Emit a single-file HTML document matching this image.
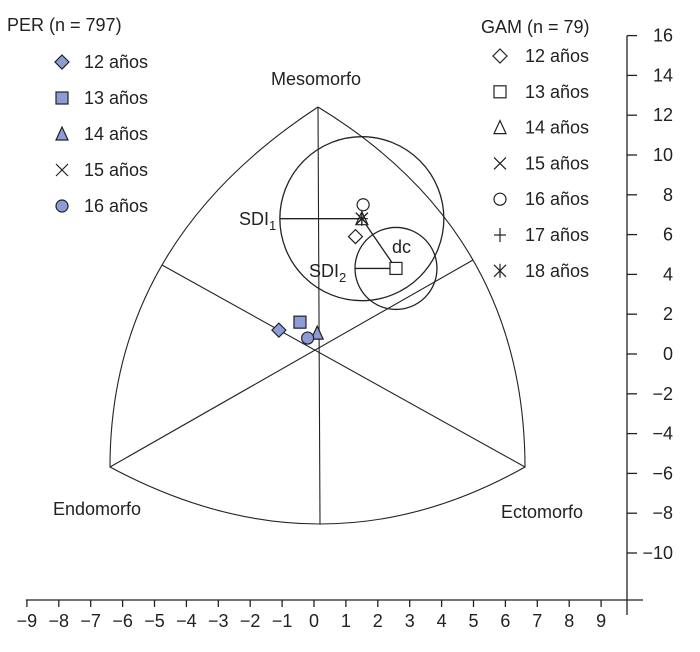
<!DOCTYPE html>
<html><head><meta charset="utf-8"><style>
body{margin:0;background:#fff;width:700px;height:652px;overflow:hidden}
svg{display:block;font-family:"Liberation Sans","DejaVu Sans",sans-serif}
</style></head><body>
<svg id="c" width="700" height="652" viewBox="0 0 700 652" xmlns="http://www.w3.org/2000/svg"></svg>
<script>
const xTicks=[-9,-8,-7,-6,-5,-4,-3,-2,-1,0,1,2,3,4,5,6,7,8,9];
const yTicks=[16,14,12,10,8,6,4,2,0,-2,-4,-6,-8,-10];
const perAges=["12 años","13 años","14 años","15 años","16 años"];
const perShapes=["diamond","square","triangle","cross","circle"];
const perX=[-1.1,-0.44,0.1,null,-0.2];
const perY=[1.2,1.6,1.05,null,0.8];
const gamAges=["12 años","13 años","14 años","15 años","16 años","17 años","18 años"];
const gamShapes=["diamond","square","triangle","cross","circle","plus","asterisk"];
const gamX=[1.3,2.57,1.5,1.5,1.54,1.5,1.5];
const gamY=[5.9,4.3,6.8,6.8,7.5,6.8,6.8];
const sdi1Center=[1.5,6.8];
const sdi2Center=[2.57,4.3];

const NS="http://www.w3.org/2000/svg";
const svg=document.getElementById('c');
const X=v=>314+v*31.9, Y=v=>354-v*19.9;
function el(t,a,p){const e=document.createElementNS(NS,t);for(const k in a)e.setAttribute(k,a[k]);(p||svg).appendChild(e);return e;}
const S={stroke:"#222",fill:"none","stroke-width":1.3};
const FS=18;

let ax=el('line',{x1:X(-9)-1,y1:600,x2:643,y2:600,...S});


let ay=el('line',{x1:627,y1:Y(16),x2:627,y2:615,...S});


xTicks.forEach(v=>{
 el('line',{x1:X(v),y1:600,x2:X(v),y2:607,...S});
 const t=el('text',{x:X(v),y:627,'font-size':FS,'text-anchor':'middle',fill:'#222'});
 t.textContent=v<0?'\u2212'+(-v):v;
 
 
});
yTicks.forEach(v=>{
 el('line',{x1:627,y1:Y(v),x2:637,y2:Y(v),...S});
 const t=el('text',{x:673,y:Y(v)+6,'font-size':FS,'text-anchor':'end',fill:'#222'});
 t.textContent=v<0?'\u2212'+(-v):v;
 
 
});

function q(A,M,B){const C=[2*M[0]-(A[0]+B[0])/2,2*M[1]-(A[1]+B[1])/2];return `Q${C[0]},${C[1]} ${B[0]},${B[1]}`;}
const T=[318,107],L=[110,467],R=[525,467],ml=[162,265],mr=[473,260],mb=[320,524];
let o=el('path',{d:`M${T[0]},${T[1]} ${q(T,mr,R)} ${q(R,mb,L)} ${q(L,ml,T)}`,...S,'stroke-width':1.1});


el('line',{x1:T[0],y1:T[1],x2:mb[0],y2:mb[1],...S,'stroke-width':1.1});
el('line',{x1:ml[0],y1:ml[1],x2:R[0],y2:R[1],...S,'stroke-width':1.1});
el('line',{x1:mr[0],y1:mr[1],x2:L[0],y2:L[1],...S,'stroke-width':1.1});

function lab(txt,x,y,name,anchor){const t=el('text',{x,y,'font-size':FS,fill:'#222','text-anchor':anchor||'start'});t.textContent=txt;return t;}
lab('Mesomorfo',316,85,'mesomorfo-label','middle');
lab('Endomorfo',97,515,'endomorfo-label','middle');
lab('Ectomorfo',542,518,'ectomorfo-label','middle');

const c1x=X(sdi1Center[0]),c1y=Y(sdi1Center[1]),c2x=X(sdi2Center[0]),c2y=Y(sdi2Center[1]);
let ci=el('circle',{cx:c1x,cy:c1y,r:82,...S});


ci=el('circle',{cx:c2x,cy:c2y,r:41,...S});


el('line',{x1:c1x-82,y1:c1y,x2:c1x,y2:c1y,...S});
el('line',{x1:c2x-41,y1:c2y,x2:c2x,y2:c2y,...S});
el('line',{x1:c1x,y1:c1y,x2:c2x,y2:c2y,...S});
let s1=lab('SDI',239,225,'sdi1-label');el('tspan',{'font-size':13,dy:5},s1).textContent='1';
let s2=lab('SDI',309,277,'sdi2-label');el('tspan',{'font-size':13,dy:5},s2).textContent='2';
lab('dc',392,253,'dc-label');

function mark(shape,x,y,filled,name){
 const g=el('g',{});
 
 
 const st={stroke:'#222','stroke-width':1.2,fill:filled?'#8d9bd6':'#fff'};
 const r=6;
 if(shape==='diamond')el('polygon',{points:`${x},${y-r-1} ${x+r+1},${y} ${x},${y+r+1} ${x-r-1},${y}`,...st},g);
 else if(shape==='square')el('rect',{x:x-r,y:y-r,width:2*r,height:2*r,...st},g);
 else if(shape==='triangle')el('polygon',{points:`${x},${y-r-1} ${x+r},${y+r} ${x-r},${y+r}`,...st},g);
 else if(shape==='circle')el('circle',{cx:x,cy:y,r:r,...st},g);
 else if(shape==='cross'){el('line',{x1:x-r,y1:y-r,x2:x+r,y2:y+r,...st},g);el('line',{x1:x-r,y1:y+r,x2:x+r,y2:y-r,...st},g);}
 else if(shape==='plus'){el('line',{x1:x-r,y1:y,x2:x+r,y2:y,...st},g);el('line',{x1:x,y1:y-r-1,x2:x,y2:y+r+1,...st},g);}
 else if(shape==='asterisk'){el('line',{x1:x-r,y1:y-r,x2:x+r,y2:y+r,...st},g);el('line',{x1:x-r,y1:y+r,x2:x+r,y2:y-r,...st},g);el('line',{x1:x,y1:y-r-1,x2:x,y2:y+r+1,...st},g);}
}
perShapes.forEach((s,i)=>{if(perX[i]!==null)mark(s,X(perX[i]),Y(perY[i]),true,'per-point-'+perAges[i].split(' ')[0]);});
gamShapes.forEach((s,i)=>mark(s,X(gamX[i]),Y(gamY[i]),false,'gam-point-'+gamAges[i].split(' ')[0]));

lab('PER (n = 797)',7,31,'per-legend-title');
perAges.forEach((a,i)=>{const y=62+i*36;mark(perShapes[i],62,y,true,'per-legend-symbol');lab(a,84,y+6,'per-legend-entry');});
lab('GAM (n = 79)',481,33,'gam-legend-title');
gamAges.forEach((a,i)=>{const y=56+i*35.8;mark(gamShapes[i],500,y,false,'gam-legend-symbol');lab(a,525,y+6,'gam-legend-entry');});
</script>
</body></html>
